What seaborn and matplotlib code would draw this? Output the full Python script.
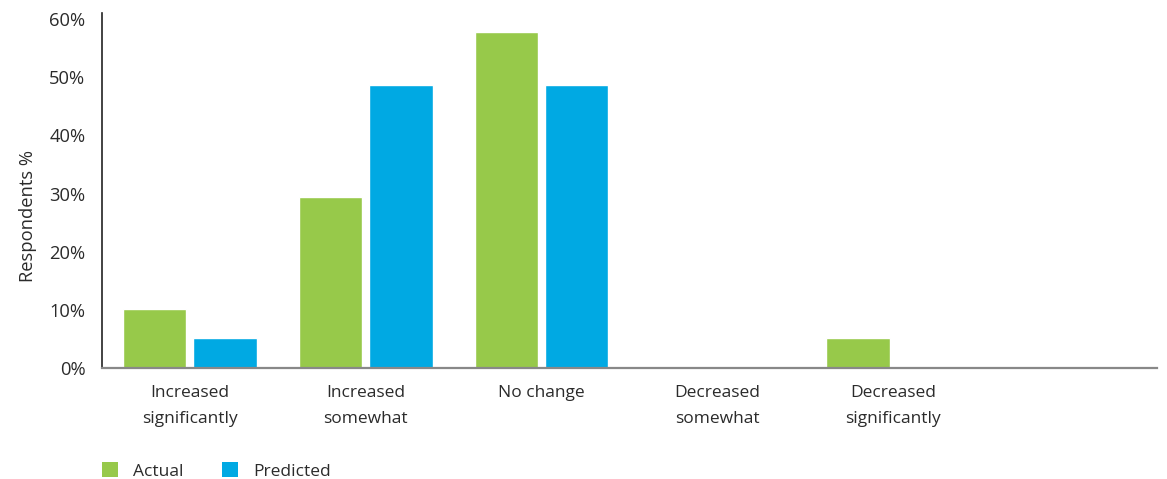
import matplotlib
matplotlib.use("Agg")
import matplotlib.pyplot as plt
import seaborn as sns
import pandas as pd
from matplotlib.patches import Patch
from matplotlib.ticker import FuncFormatter

categories = ["Increased\nsignificantly", "Increased\nsomewhat", "No change",
              "Decreased\nsomewhat", "Decreased\nsignificantly"]
actual = [10.2, 29.4, 57.8, 0.0, 5.2]
predicted = [5.2, 48.6, 48.6, 0.0, 0.0]
series_names = ["Actual", "Predicted"]
colors = {"Actual": "#97C94A", "Predicted": "#00A9E3"}

df = pd.DataFrame({
    "category": categories * 2,
    "series": [series_names[0]] * len(categories) + [series_names[1]] * len(categories),
    "value": actual + predicted,
})

sns.set_theme(style="white")
plt.rcParams["font.family"] = ["Open Sans", "DejaVu Sans"]
text_color = "#2b2b2b"

W, H = 1167, 479
fig = plt.figure(figsize=(W / 100, H / 100), dpi=100)
ax = fig.add_axes([0.0874, 0.231, 0.904, 0.742])

sns.barplot(data=df, x="category", y="value", hue="series", order=categories,
            hue_order=series_names, palette=colors, width=0.8, gap=0.1,
            saturation=1, legend=False, ax=ax)

ax.set_xlim(-0.5, 5.5)
ax.set_ylim(0, 61)
ax.set_yticks(range(0, 61, 10))
ax.yaxis.set_major_formatter(FuncFormatter(lambda v, _: f"{v:.0f}%"))
ax.tick_params(axis="both", length=0, colors=text_color)
ax.tick_params(axis="x", pad=12, labelsize=12.5)
ax.tick_params(axis="y", pad=12, labelsize=13.2)
for lbl in ax.get_xticklabels():
    lbl.set_linespacing(1.8)
ax.set_xlabel("")
ax.set_ylabel("Respondents %", fontsize=13.2, color=text_color)
ax.yaxis.set_label_coords(-0.062, 0.43)

for side in ["top", "right"]:
    ax.spines[side].set_visible(False)
ax.spines["left"].set_color("#222222")
ax.spines["left"].set_linewidth(1.2)
ax.spines["bottom"].set_color("#888888")
ax.spines["bottom"].set_linewidth(1.6)

handles = [Patch(facecolor=colors[s], edgecolor="none", label=s) for s in series_names]
fig.legend(handles=handles, loc="center left", bbox_to_anchor=(102 / W, 1 - 471 / H),
           ncol=2, frameon=False, fontsize=12.5, handlelength=0.9, handleheight=0.9,
           handletextpad=0.9, columnspacing=2.2, borderpad=0, borderaxespad=0,
           labelcolor=text_color)

fig.savefig("out.png", dpi=100, facecolor="white")
